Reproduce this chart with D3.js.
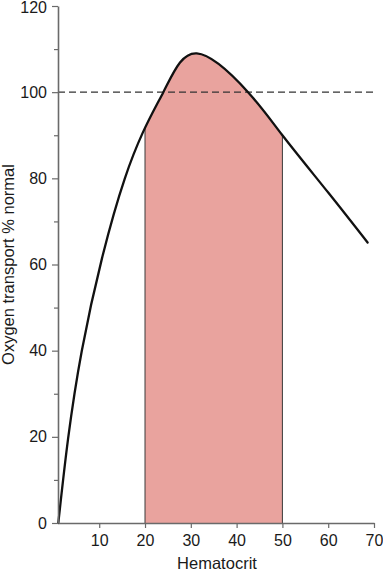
<!DOCTYPE html>
<html>
<head>
<meta charset="utf-8">
<script src="https://cdn.jsdelivr.net/npm/d3@7"></script>
<style>
  html, body { margin: 0; padding: 0; background: #fff; }
  svg { display: block; }
  text { font-family: "Liberation Sans", Arial, sans-serif; }
</style>
</head>
<body>
<svg id="chart" width="383" height="571"></svg>
<script>
// Data
const hematocrit = [1.07, 6.2, 15.6, 24, 31.3, 42.5, 50, 60, 68.6];
const oxygenTransport = [0, 40, 80, 100, 109, 100, 90, 76.7, 65.1];
const optimalRange = [20, 50];
const referenceLevel = 100;
const xTicks = [10, 20, 30, 40, 50, 60, 70];
const yTicks = [0, 20, 40, 60, 80, 100, 120];
const yMinorTicks = [10, 30, 50, 70, 90, 110];
const xTitle = "Hematocrit";
const yTitle = "Oxygen transport % normal";

const points = hematocrit.map((h, i) => ({ x: h, y: oxygenTransport[i] }));

const svg = d3.select("#chart");
const x = d3.scaleLinear().domain([1, 70]).range([58, 374]);
const y = d3.scaleLinear().domain([0, 120]).range([523, 6]);

const curve = d3.curveNatural;
const lineGen = d3.line().x(d => x(d.x)).y(d => y(d.y)).curve(curve);

// sample the drawn curve to build the shaded region under it
const pathEl = svg.append("path").attr("d", lineGen(points)).attr("fill", "none").attr("stroke", "none");
const node = pathEl.node();
const total = node.getTotalLength();
const samples = [];
for (let l = 0; l <= total; l += 0.5) {
  const p = node.getPointAtLength(l);
  samples.push({ x: x.invert(p.x), y: y.invert(p.y) });
}
pathEl.remove();
function yAt(hv) {
  let best = samples[0];
  for (const s of samples) if (Math.abs(s.x - hv) < Math.abs(best.x - hv)) best = s;
  return best.y;
}
const areaPts = samples.filter(s => s.x > optimalRange[0] && s.x < optimalRange[1]);
areaPts.unshift({ x: optimalRange[0], y: yAt(optimalRange[0]) });
areaPts.push({ x: optimalRange[1], y: yAt(optimalRange[1]) });

const areaGen = d3.area().x(d => x(d.x)).y0(y(0)).y1(d => y(d.y));
svg.append("path").attr("d", areaGen(areaPts)).attr("fill", "#e9a39e").attr("stroke", "none");

// vertical edges of the shaded range
svg.selectAll("line.edge").data(optimalRange).enter().append("line")
  .attr("class", "edge")
  .attr("x1", d => x(d)).attr("x2", d => x(d))
  .attr("y1", y(0)).attr("y2", d => y(yAt(d)))
  .attr("stroke", "#3a3a3a").attr("stroke-width", 1);

// dashed reference line
svg.append("line")
  .attr("x1", x(1)).attr("x2", x(70))
  .attr("y1", y(referenceLevel)).attr("y2", y(referenceLevel))
  .attr("stroke", "#333").attr("stroke-width", 1.2)
  .attr("stroke-dasharray", "7,4");

// curve
svg.append("path").attr("d", lineGen(points))
  .attr("fill", "none").attr("stroke", "#111").attr("stroke-width", 2.3)
  .attr("stroke-linejoin", "round").attr("stroke-linecap", "round");

// axes
const axisColor = "#6a6a6a";
const yAxis = svg.append("g").attr("transform", `translate(${x(1)},0)`)
  .call(d3.axisLeft(y).tickValues(yTicks).tickSize(6).tickSizeOuter(0).tickPadding(5));
const yMinor = svg.append("g").attr("transform", `translate(${x(1)},0)`)
  .call(d3.axisLeft(y).tickValues(yMinorTicks).tickSize(4).tickSizeOuter(0).tickFormat(""));
yMinor.select(".domain").remove();
const xAxis = svg.append("g").attr("transform", `translate(0,${y(0)})`)
  .call(d3.axisBottom(x).tickValues(xTicks).tickSize(5).tickSizeOuter(0).tickPadding(7));

[yAxis, yMinor, xAxis].forEach(g => {
  g.selectAll(".domain").attr("stroke", axisColor).attr("stroke-width", 1.6);
  g.selectAll(".tick line").attr("stroke", axisColor).attr("stroke-width", 1.2);
  g.selectAll(".tick text").attr("fill", "#1a1a1a")
    .style("font-family", '"Liberation Sans", Arial, sans-serif').style("font-size", "16px");
});
yAxis.selectAll(".tick text").filter(d => d === 120).attr("dy", "0.4em");

// titles
svg.append("text").text(xTitle)
  .attr("x", (x(1) + x(70)) / 2 + 1).attr("y", 569)
  .attr("text-anchor", "middle").attr("fill", "#1a1a1a").style("font-size", "16.5px");
svg.append("text").text(yTitle)
  .attr("transform", `translate(13.5,${(y(0) + y(120)) / 2}) rotate(-90)`)
  .attr("text-anchor", "middle").attr("fill", "#1a1a1a").style("font-size", "16.5px");
</script>
</body>
</html>
